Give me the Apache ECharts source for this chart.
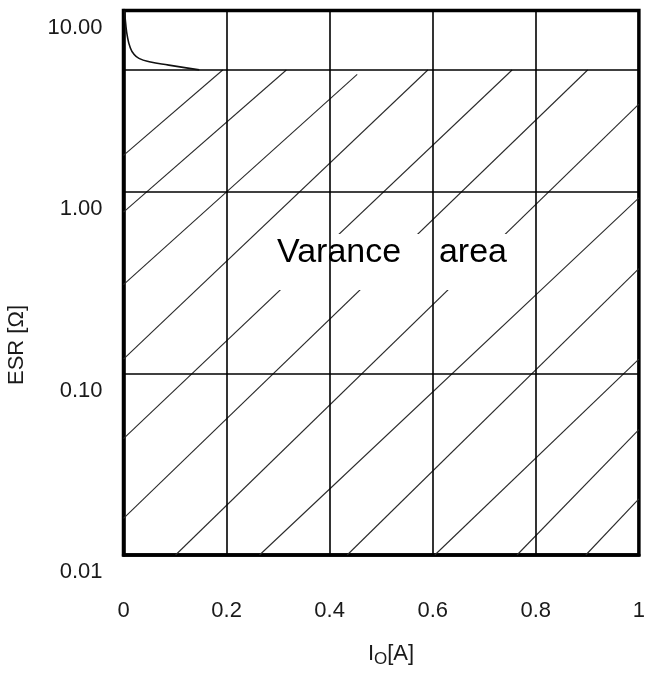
<!DOCTYPE html>
<html><head><meta charset="utf-8">
<script src="https://cdn.jsdelivr.net/npm/echarts@6/dist/echarts.min.js"></script>
<style>html,body{margin:0;padding:0;background:#fff}#c{width:648px;height:673px}</style>
</head><body><div id="c"></div>
<script>
// ---- data ----
const xTicks = [0, 0.2, 0.4, 0.6, 0.8, 1];
const yTicks = [0.01, 0.1, 1, 10];
const gridX = [0.2, 0.4, 0.6, 0.8];
const gridY = [4.7, 1, 0.1];
// ESR limit curve
const curveX = [0.002, 0.004, 0.0075, 0.013, 0.02, 0.03, 0.05, 0.088, 0.147];
const curveY = [10, 8.6, 7.2, 6.25, 5.75, 5.45, 5.22, 5.0, 4.71];
// hatch lines (lower-left end -> upper-right end)
const hatchX0 = [0, 0, 0, 0, 0, 0, 0.101, 0.264, 0.434, 0.604, 0.7635, 0.897];
const hatchY0 = [1.59, 0.775, 0.309, 0.120, 0.0438, 0.0159, 0.01, 0.01, 0.01, 0.01, 0.01, 0.01];
const hatchX1 = [0.1925, 0.316, 0.4535, 0.5905, 0.754, 0.9006, 1, 1, 1, 1, 1, 1];
const hatchY1 = [4.7, 4.7, 4.45, 4.7, 4.7, 4.7, 3.05, 0.928, 0.378, 0.120, 0.049, 0.0204];
const areaLabel = 'Varance    area';
const yTitle = 'ESR [Ω]';

const tickFont = "'Liberation Sans', Arial, sans-serif";
const chart = echarts.init(document.getElementById('c'), null, {renderer: 'canvas'});

const series = [];
for (let i = 0; i < hatchX0.length; i++) {
  series.push({
    type: 'line', silent: true, z: 2, symbol: 'none', animation: false,
    data: [[hatchX0[i], hatchY0[i]], [hatchX1[i], hatchY1[i]]],
    lineStyle: {color: '#2a2a2a', width: 1.1}
  });
}
series.push({
  type: 'line', silent: true, z: 8, symbol: 'none', smooth: 0.5, animation: false,
  data: curveX.map((x, i) => [x, curveY[i]]),
  lineStyle: {color: '#111', width: 1.6}
});
series.push({
  type: 'line', silent: true, z: 10, data: [], animation: false,
  markLine: {
    silent: true, symbol: ['none', 'none'], animation: false,
    label: {show: false},
    lineStyle: {type: 'solid', color: '#000', width: 1.6},
    emphasis: {disabled: true},
    data: gridX.map(v => ({xAxis: v})).concat(gridY.map(v => ({yAxis: v})))
  }
});

chart.setOption({
  backgroundColor: '#fff',
  animation: false,
  grid: {left: 123.5, right: 6.5, top: 10.5, bottom: 118, show: true,
         borderColor: '#000', borderWidth: 3.5, backgroundColor: '#fff'},
  xAxis: {
    type: 'value', min: xTicks[0], max: xTicks[xTicks.length - 1], interval: 0.2,
    axisLine: {show: true, lineStyle: {color: '#000', width: 3.5}},
    axisTick: {show: false}, splitLine: {show: false},
    axisLabel: {margin: 44, fontSize: 22, fontFamily: tickFont, color: '#1a1a1a', lineHeight: 24,
                formatter: v => String(v)}
  },
  yAxis: {
    type: 'log', logBase: 10, min: yTicks[0], max: yTicks[yTicks.length - 1],
    axisLine: {show: true, lineStyle: {color: '#000', width: 3.5}},
    axisTick: {show: false}, splitLine: {show: false}, minorSplitLine: {show: false},
    axisLabel: {margin: 21, fontSize: 22, fontFamily: tickFont, color: '#1a1a1a',
                verticalAlign: 'top', lineHeight: 24, padding: [5, 0, 0, 0],
                showMinLabel: true, showMaxLabel: true,
                formatter: v => Number(v).toFixed(2)}
  },
  graphic: [
    {type: 'rect', z: 5, silent: true, shape: {x: 271, y: 234, width: 250, height: 56}, style: {fill: '#fff'}},
    {type: 'text', z: 6, silent: true, x: 277, y: 253,
     style: {text: areaLabel, font: '34px "Liberation Sans"', fill: '#000', align: 'left', verticalAlign: 'middle'}},
    {type: 'text', z: 6, silent: true, x: 17, y: 345, rotation: Math.PI / 2,
     style: {text: yTitle, font: '22px "Liberation Sans"', fill: '#1a1a1a', align: 'center', verticalAlign: 'middle'}},
    {type: 'text', z: 6, silent: true, x: 391, y: 654,
     style: {text: '{a|I}{b|O}{a|[A]}', align: 'center', verticalAlign: 'middle',
             rich: {a: {fontSize: 22, fontFamily: 'Liberation Sans', fill: '#1a1a1a', lineHeight: 28},
                    b: {fontSize: 17, fontFamily: 'Liberation Sans', fill: '#1a1a1a', lineHeight: 17, verticalAlign: 'bottom'}}}}
  ],
  series: series
});
</script>
</body></html>
